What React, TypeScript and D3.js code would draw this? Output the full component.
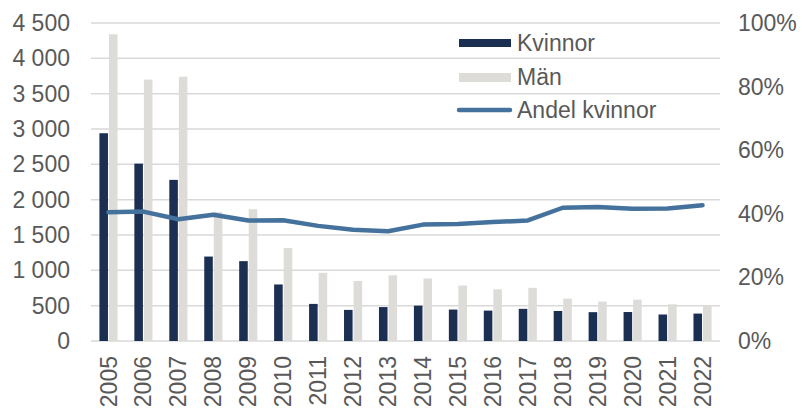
import { useEffect, useRef } from "react";
import * as d3 from "d3";

const years = [
  "2005", "2006", "2007", "2008", "2009", "2010", "2011", "2012", "2013",
  "2014", "2015", "2016", "2017", "2018", "2019", "2020", "2021", "2022",
];
const kvinnor = [2940, 2510, 2280, 1195, 1130, 800, 525, 440, 480, 500, 445, 430, 455, 425, 408, 410, 375, 388];
const man = [4340, 3700, 3740, 1825, 1865, 1315, 965, 850, 930, 885, 785, 732, 752, 600, 558, 585, 520, 510];
const andelKvinnor = [40.5, 40.7, 38.3, 39.7, 37.9, 38.0, 36.2, 35.0, 34.5, 36.6, 36.8, 37.4, 37.9, 41.9, 42.1, 41.6, 41.7, 42.7];
const leftTicks = [0, 500, 1000, 1500, 2000, 2500, 3000, 3500, 4000, 4500];
const rightTicks = [0, 20, 40, 60, 80, 100];

const W = 802;
const H = 409;
const dark = "#1b2f52";
const light = "#dedcd8";
const lineColor = "#44729c";
const textColor = "#595959";
const font = "'Liberation Sans', Arial, sans-serif";

export default function App() {
  const ref = useRef<SVGSVGElement>(null);

  useEffect(() => {
    const svg = d3.select(ref.current);
    svg.selectAll("*").remove();

    const left = 91;
    const right = 720;
    const top = 23;
    const bottom = 341;

    const x = d3.scaleBand().domain(years).range([left, right]).padding(0);
    const y = d3.scaleLinear().domain([0, 4500]).range([bottom, top]);
    const y2 = d3.scaleLinear().domain([0, 100]).range([bottom, top]);
    const barW = x.bandwidth() * 0.245;
    const gap = 1;

    // gridlines
    svg
      .append("g")
      .selectAll("line")
      .data(leftTicks)
      .join("line")
      .attr("x1", left)
      .attr("x2", right)
      .attr("y1", (d) => y(d))
      .attr("y2", (d) => y(d))
      .attr("stroke", "#d9d9d9")
      .attr("stroke-width", 1.5);

    // left axis labels
    svg
      .append("g")
      .selectAll("text")
      .data(leftTicks)
      .join("text")
      .attr("x", 70)
      .attr("y", (d) => y(d))
      .attr("dy", "0.35em")
      .attr("text-anchor", "end")
      .text((d) => d3.format(",")(d).replace(",", " "));

    // right axis labels
    svg
      .append("g")
      .selectAll("text")
      .data(rightTicks)
      .join("text")
      .attr("x", 738)
      .attr("y", (d) => y2(d))
      .attr("dy", "0.35em")
      .text((d) => `${d}%`);

    // bars
    const cx = (yr: string) => (x(yr) as number) + x.bandwidth() / 2;
    svg
      .append("g")
      .selectAll("rect")
      .data(years)
      .join("rect")
      .attr("x", (d) => cx(d) - barW - gap / 2)
      .attr("y", (_, i) => y(kvinnor[i]))
      .attr("width", barW)
      .attr("height", (_, i) => bottom - y(kvinnor[i]))
      .attr("fill", dark);
    svg
      .append("g")
      .selectAll("rect")
      .data(years)
      .join("rect")
      .attr("x", (d) => cx(d) + gap / 2)
      .attr("y", (_, i) => y(man[i]))
      .attr("width", barW)
      .attr("height", (_, i) => bottom - y(man[i]))
      .attr("fill", light);

    // line
    const line = d3
      .line<number>()
      .x((_, i) => cx(years[i]))
      .y((d) => y2(d));
    svg
      .append("path")
      .datum(andelKvinnor)
      .attr("fill", "none")
      .attr("stroke", lineColor)
      .attr("stroke-width", 4.5)
      .attr("stroke-linecap", "round")
      .attr("stroke-linejoin", "round")
      .attr("d", line);

    // x labels
    svg
      .append("g")
      .selectAll("text")
      .data(years)
      .join("text")
      .attr("transform", (d) => `translate(${cx(d)},356) rotate(-90)`)
      .attr("dy", "0.35em")
      .attr("text-anchor", "end")
      .text((d) => d);

    // legend
    const lg = svg.append("g");
    lg.append("rect").attr("x", 459).attr("y", 39).attr("width", 52).attr("height", 8).attr("fill", dark);
    lg.append("rect").attr("x", 459).attr("y", 73).attr("width", 52).attr("height", 9).attr("fill", light);
    lg.append("line")
      .attr("x1", 459)
      .attr("x2", 510)
      .attr("y1", 110)
      .attr("y2", 110)
      .attr("stroke", lineColor)
      .attr("stroke-width", 4.5)
      .attr("stroke-linecap", "round");
    const labels = ["Kvinnor", "Män", "Andel kvinnor"];
    lg.selectAll("text")
      .data(labels)
      .join("text")
      .attr("x", 517)
      .attr("y", (_, i) => 43 + i * 33.5)
      .attr("dy", "0.35em")
      .text((d) => d);

    svg.selectAll("text").attr("fill", textColor).style("font-size", "23px");
  }, []);

  return (
    <div style={{ position: "fixed", left: 0, top: 0, width: W, height: H, background: "#fff" }}>
      <svg ref={ref} width={W} height={H} style={{ fontFamily: font, display: "block" }} />
    </div>
  );
}
